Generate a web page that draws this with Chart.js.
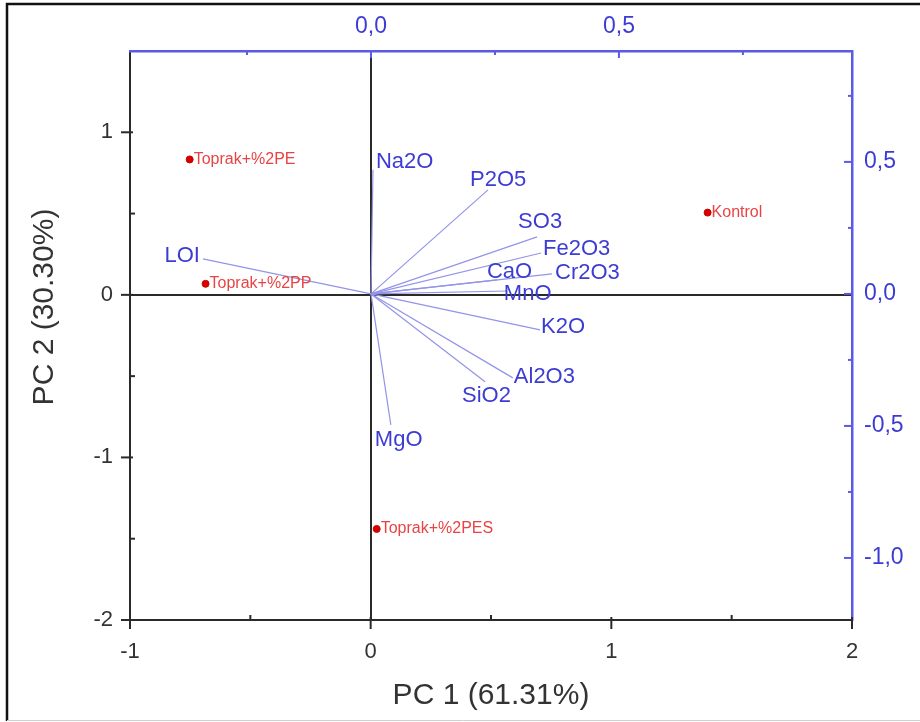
<!DOCTYPE html>
<html>
<head>
<meta charset="utf-8">
<script src="https://cdn.jsdelivr.net/npm/chart.js@4.4.1/dist/chart.umd.min.js"></script>
<style>
  html, body { margin: 0; padding: 0; background: #fff; }
</style>
</head>
<body>
<canvas id="myChart" width="920" height="722"></canvas>
<script>
// variable loadings (read on the top / right axes)
var variables = ["Na2O", "P2O5", "SO3", "Fe2O3", "Cr2O3", "CaO", "MnO", "K2O", "Al2O3", "SiO2", "MgO", "LOI"];
var loadX = [0.004, 0.236, 0.335, 0.343, 0.365, 0.254, 0.274, 0.341, 0.286, 0.23, 0.04, -0.339];
var loadY = [0.47, 0.394, 0.216, 0.155, 0.076, 0.053, 0.011, -0.136, -0.318, -0.333, -0.496, 0.133];

// sample scores (read on the bottom / left axes)
var samples = ["Toprak+%2PE", "Toprak+%2PP", "Kontrol", "Toprak+%2PES"];
var scoreX = [-0.752, -0.686, 1.40, 0.025];
var scoreY = [0.833, 0.068, 0.506, -1.44];

// labelled ticks on each axis
var xTicks = [-1, 0, 1, 2];
var yTicks = [-2, -1, 0, 1];
var x2Ticks = [0, 0.5];
var y2Ticks = [-1, -0.5, 0, 0.5];

const FONT = "'Liberation Sans', Arial, sans-serif";
const BLUE = "#3c3cd4";
const AXIS_BLUE = "#5a5ae6";
const DARK = "#2a2a2a";

function isIn(list, v) {
  return list.some(function (t) { return Math.abs(t - v) < 1e-9; });
}
function comma(v) {
  return v.toFixed(1).replace(".", ",");
}

// one dataset per loading vector, from the origin to its end
var datasets = variables.map(function (name, i) {
  return {
    label: name,
    data: [{ x: 0, y: 0 }, { x: loadX[i], y: loadY[i] }],
    xAxisID: "x2",
    yAxisID: "y2",
    showLine: true,
    borderColor: "#9494e8",
    borderWidth: 1.2,
    pointRadius: 0,
    fill: false
  };
});
datasets.push({
  label: "scores",
  data: samples.map(function (s, i) { return { x: scoreX[i], y: scoreY[i] }; }),
  xAxisID: "x",
  yAxisID: "y",
  showLine: false,
  pointRadius: 3.5,
  pointBackgroundColor: "#d40000",
  pointBorderColor: "#d40000"
});

// label nudges so the names sit like in the original figure
var nudge = {
  "Na2O": [3, -8], "P2O5": [-18, -10], "SO3": [-19, -15], "Fe2O3": [2, -4],
  "Cr2O3": [3, -1], "CaO": [-10, -8], "MnO": [-3, 3], "K2O": [1, -3],
  "Al2O3": [1, -1], "SiO2": [-23, 14], "MgO": [-16, 15], "LOI": [-3, -3]
};

var frame = {
  id: "frame",
  beforeDraw: function (chart) {
    var ctx = chart.ctx;
    ctx.save();
    ctx.fillStyle = "#fff";
    ctx.fillRect(0, 0, chart.width, chart.height);
    ctx.strokeStyle = "#111";
    ctx.lineWidth = 2.5;
    ctx.beginPath();
    ctx.moveTo(7, 721);
    ctx.lineTo(7, 4);
    ctx.lineTo(920, 4);
    ctx.stroke();
    ctx.strokeStyle = "#cfcfcf";
    ctx.lineWidth = 1;
    ctx.beginPath();
    ctx.moveTo(7, 720.5);
    ctx.lineTo(920, 720.5);
    ctx.stroke();
    ctx.restore();
  }
};

var tickMarks = {
  id: "tickMarks",
  afterDraw: function (chart) {
    var ctx = chart.ctx, a = chart.chartArea;
    ctx.save();
    ctx.lineWidth = 2;
    var spec = { x: xTicks, y: yTicks, x2: x2Ticks, y2: y2Ticks };
    Object.keys(spec).forEach(function (id) {
      var s = chart.scales[id];
      ctx.strokeStyle = id.length > 1 ? AXIS_BLUE : DARK;
      s.ticks.forEach(function (t) {
        var major = isIn(spec[id], t.value);
        var p = s.getPixelForValue(t.value);
        ctx.beginPath();
        if (id === "x") {
          ctx.moveTo(p, major ? a.bottom - 3 : a.bottom - 5);
          ctx.lineTo(p, major ? a.bottom + 9 : a.bottom);
        } else if (id === "y") {
          if (Math.abs(p - a.top) < 2) return;
          ctx.moveTo(major ? a.left - 9 : a.left + 5, p);
          ctx.lineTo(major ? a.left + 3 : a.left, p);
        } else if (id === "x2") {
          ctx.moveTo(p, a.top);
          ctx.lineTo(p, a.top + (major ? 7 : 4));
        } else {
          ctx.moveTo(a.right, p);
          ctx.lineTo(a.right - (major ? 8 : 4), p);
        }
        ctx.stroke();
      });
    });
    ctx.restore();
  }
};

var pointLabels = {
  id: "pointLabels",
  afterDatasetsDraw: function (chart) {
    var ctx = chart.ctx;
    var sx = chart.scales.x, sy = chart.scales.y;
    var sx2 = chart.scales.x2, sy2 = chart.scales.y2;
    ctx.save();
    ctx.textBaseline = "middle";

    ctx.font = "22px " + FONT;
    ctx.fillStyle = BLUE;
    variables.forEach(function (name, i) {
      var px = sx2.getPixelForValue(loadX[i]);
      var py = sy2.getPixelForValue(loadY[i]);
      var n = nudge[name] || [2, 0];
      ctx.textAlign = loadX[i] < 0 ? "right" : "left";
      ctx.fillText(name, px + n[0], py + n[1]);
    });

    ctx.font = "16px " + FONT;
    ctx.fillStyle = "#e84444";
    ctx.textAlign = "left";
    samples.forEach(function (name, i) {
      var px = sx.getPixelForValue(scoreX[i]);
      var py = sy.getPixelForValue(scoreY[i]);
      ctx.fillText(name, px + 4, py);
    });

    // left axis title, rotated
    ctx.font = "30px " + FONT;
    ctx.fillStyle = "#333";
    ctx.textAlign = "center";
    ctx.translate(45, 307);
    ctx.rotate(-Math.PI / 2);
    ctx.fillText("PC 2 (30.30%)", 0, 0);
    ctx.restore();
  }
};

new Chart("myChart", {
  type: "scatter",
  data: { datasets: datasets },
  options: {
    responsive: false,
    animation: false,
    layout: { padding: 0 },
    plugins: {
      legend: { display: false },
      tooltip: { enabled: false }
    },
    scales: {
      x: {
        type: "linear",
        position: "bottom",
        min: -1,
        max: 2,
        afterFit: function (s) { s.height = 102; },
        ticks: {
          stepSize: 0.5,
          includeBounds: false,
          autoSkip: false,
          maxRotation: 0,
          padding: 19,
          color: "#333",
          font: { family: FONT, size: 22 },
          callback: function (v) { return isIn(xTicks, v) ? String(v) : ""; }
        },
        grid: {
          drawTicks: false,
          lineWidth: 2,
          color: function (c) { return c.tick && c.tick.value === 0 ? DARK : "transparent"; }
        },
        border: { color: DARK, width: 2 },
        title: {
          display: true,
          text: "PC 1 (61.31%)",
          color: "#333",
          font: { family: FONT, size: 30 },
          padding: { top: 0, bottom: 8 }
        }
      },
      y: {
        type: "linear",
        position: "left",
        min: -2,
        max: 1.5,
        afterFit: function (s) { s.width = 130; },
        ticks: {
          stepSize: 0.5,
          includeBounds: false,
          autoSkip: false,
          padding: 17,
          color: "#333",
          font: { family: FONT, size: 22 },
          callback: function (v) { return isIn(yTicks, v) ? String(v) : ""; }
        },
        grid: {
          drawTicks: false,
          lineWidth: 2,
          color: function (c) { return c.tick && c.tick.value === 0 ? DARK : "transparent"; }
        },
        border: { color: DARK, width: 2 }
      },
      x2: {
        type: "linear",
        position: "top",
        min: -0.486,
        max: 0.97,
        afterFit: function (s) { s.height = 51; },
        ticks: {
          stepSize: 0.25,
          includeBounds: false,
          autoSkip: false,
          maxRotation: 0,
          padding: 11,
          color: BLUE,
          font: { family: FONT, size: 23 },
          callback: function (v) { return isIn(x2Ticks, v) ? comma(v) : ""; }
        },
        grid: { drawTicks: false, drawOnChartArea: false },
        border: { color: AXIS_BLUE, width: 2.5 }
      },
      y2: {
        type: "linear",
        position: "right",
        min: -1.235,
        max: 0.92,
        afterFit: function (s) { s.width = 68; },
        ticks: {
          stepSize: 0.25,
          includeBounds: false,
          autoSkip: false,
          padding: 12,
          color: BLUE,
          font: { family: FONT, size: 23 },
          callback: function (v) { return isIn(y2Ticks, v) ? comma(v) : ""; }
        },
        grid: { drawTicks: false, drawOnChartArea: false },
        border: { color: AXIS_BLUE, width: 2.5 }
      }
    }
  },
  plugins: [frame, tickMarks, pointLabels]
});
</script>
</body>
</html>
